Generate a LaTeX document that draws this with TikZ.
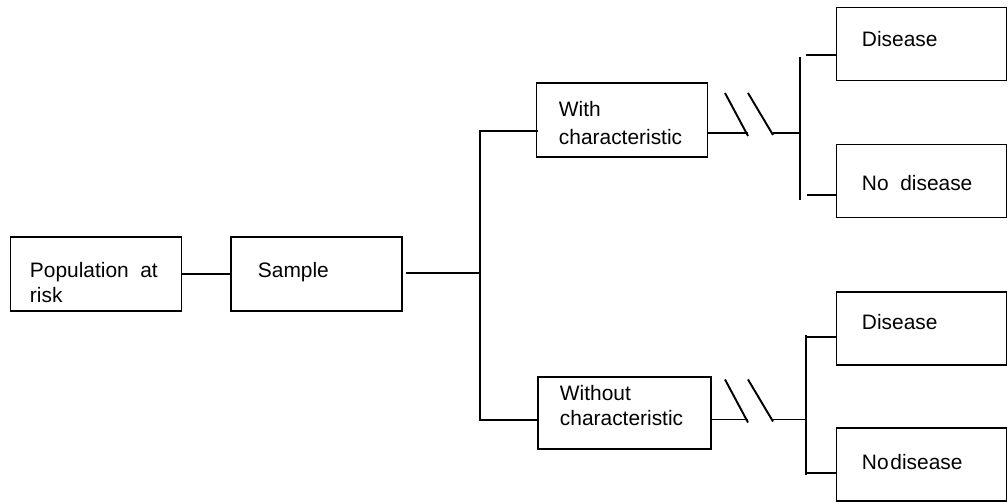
\documentclass[tikz,border=0pt]{standalone}
\usepackage{fontspec}
\setmainfont{Liberation Sans}

\tikzset{
  box/.style={draw, rectangle, minimum width=3.42cm, minimum height=1.48cm, inner sep=0pt},
  endbox/.style={box, minimum width=3.4cm, minimum height=1.46cm},
  lbl/.style={anchor=base west, align=left, inner sep=0pt, font=\fontsize{11.9}{14.5}\selectfont},
}

\begin{document}
\begin{tikzpicture}[x=0.02cm, y=-0.02cm, line width=1.1pt]
\useasboundingbox (0,0) rectangle (1008,502);
% boxes
\node[box] (pop) at (96,274) {};
\node[box] (samp) at (316.5,274) {};
\node[box] (with) at (622,120) {};
\node[box, minimum width=3.46cm, minimum height=1.44cm] (wout) at (624.5,413) {};
\node[endbox] (dis1) at (921.5,44) {};
\node[endbox] (nod1) at (921.5,181) {};
\node[endbox] (dis2) at (921.5,328.5) {};
\node[endbox] (nod2) at (921.5,464.5) {};
% texts (multi-line ones sit on their last line)
\node[lbl] (popT) at (29,303) {Population\ \ at\\risk};
\node[lbl] (sampT) at (257,278) {Sample};
\node[lbl, font=\fontsize{11.9}{16}\selectfont] (withT) at (558,145) {With\\characteristic};
\node[lbl] (woutT) at (559,425.5) {Without\\characteristic};
\node[lbl] (dis1T) at (861,47) {Disease};
\node[lbl] (nod1T) at (861,191) {No\ \ disease};
\node[lbl] (dis2T) at (861,330) {Disease};
\node[lbl] (nod2T) at (861,470) {No\kern1pt disease};
% split after the sample
\coordinate (split) at (480,273);
\coordinate (withIn) at (538,131);
\coordinate (woutIn) at (538,420);
\draw (pop) -- (samp);
\draw[shorten <=2pt] (samp.east |- split) -- (split);
\draw (withIn) -| (split) |- (woutIn);
% time breaks
\coordinate (brkT) at (748,133);
\coordinate (brkB) at (748,419.5);
\draw (with.east |- brkT) -- (brkT);
\draw (wout.east |- brkB) -- (brkB);
\foreach \b in {brkT, brkB} {
  \draw (\b) ++(-23,-40) -- ++(23,43);
  \draw (\b) ++(0,-40) -- ++(25,42);
}
\draw (brkT) ++(25,0) -- (800,133);
\draw (brkB) ++(25,0) -- (806,419.5);
% outcomes
\draw (800,57) -- (800,200);
\draw (806,55) -- (dis1.west |- 0,55);
\draw (807,195) -- (nod1.west |- 0,195);
\draw (806,335) -- (806,475);
\draw (806,337) -- (dis2.west |- 0,337);
\draw (806,473) -- (nod2.west |- 0,473);
\end{tikzpicture}
\end{document}
